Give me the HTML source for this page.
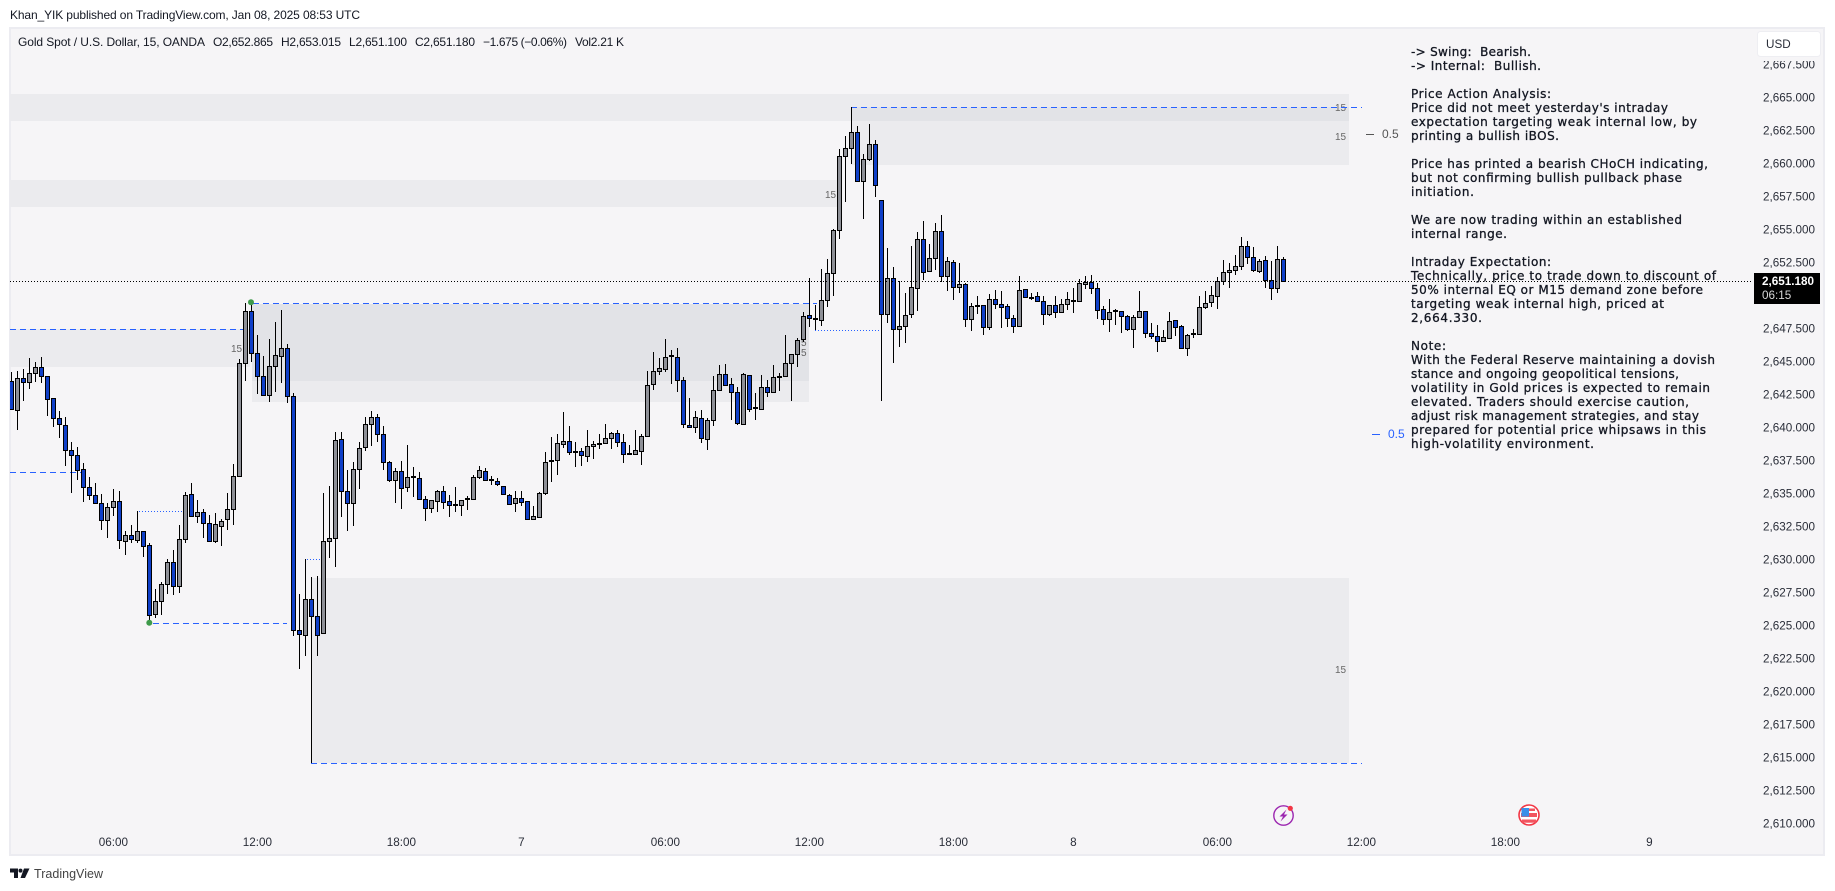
<!DOCTYPE html>
<html lang="en">
<head>
<meta charset="utf-8">
<title>Gold Spot / U.S. Dollar chart</title>
<style>
html,body{margin:0;padding:0;background:#fff;width:1835px;height:891px;overflow:hidden}
svg{display:block;position:absolute;left:0;top:0}
text{font-family:"Liberation Sans",sans-serif;fill:#131722}
.note{font-family:"DejaVu Sans",sans-serif;font-size:12px;fill:#131722;stroke:#131722;stroke-width:.3;white-space:pre}
.axis{font-size:11.7px;fill:#2a2e39}
.mini{font-size:10px;fill:#666}
</style>
</head>
<body>
<svg id="chart" width="1835" height="891" viewBox="0 0 1835 891" xmlns="http://www.w3.org/2000/svg">
  <defs><clipPath id="pane-clip"><rect x="10" y="28" width="1740" height="800"/></clipPath></defs>
  <rect x="10" y="28" width="1814" height="827" fill="#f6f5f7" stroke="#ececf1" stroke-width="2"/>
  <text x="10" y="19" font-size="12" fill="#333" textLength="350" lengthAdjust="spacing">Khan_YIK published on TradingView.com, Jan 08, 2025 08:53 UTC</text>
  <g font-size="12">
    <text x="18" y="46" textLength="187" lengthAdjust="spacing">Gold Spot / U.S. Dollar, 15, OANDA</text>
    <text x="213" y="46" textLength="60" lengthAdjust="spacing">O2,652.865</text>
    <text x="281" y="46" textLength="60" lengthAdjust="spacing">H2,653.015</text>
    <text x="349" y="46" textLength="58" lengthAdjust="spacing">L2,651.100</text>
    <text x="415" y="46" textLength="60" lengthAdjust="spacing">C2,651.180</text>
    <text x="483" y="46" textLength="84" lengthAdjust="spacing">−1.675 (−0.06%)</text>
    <text x="575" y="46" textLength="49" lengthAdjust="spacing">Vol2.21 K</text>
  </g>

  <g shape-rendering="crispEdges">
    <rect x="10" y="94" width="1339" height="27" fill="#ebebee"/>
    <rect x="10" y="180" width="830" height="27" fill="#ebebee"/>
    <rect x="851" y="107" width="498" height="14" fill="#e2e3e7"/>
    <rect x="851" y="121" width="498" height="44" fill="#ebebee"/>
    <rect x="10" y="329" width="240" height="38" fill="#ebebee"/>
    <rect x="252" y="304" width="557" height="77" fill="#e2e3e7"/>
    <rect x="252" y="381" width="557" height="21" fill="#ebebee"/>
    <rect x="311" y="578" width="1038" height="185" fill="#ebebee"/>
  </g>

  <g>
    <text class="mini" x="231" y="352">15</text>
    <text class="mini" x="825" y="198">15</text>
    <text class="mini" x="801" y="346">5</text>
    <text class="mini" x="801" y="356">5</text>
    <text class="mini" x="1335" y="111">15</text>
    <text class="mini" x="1335" y="140">15</text>
    <text class="mini" x="1335" y="673">15</text>
  </g>

  <g fill="none" stroke="#2962ff" stroke-width="1" shape-rendering="crispEdges">
    <line x1="851" x2="1362" y1="107.5" y2="107.5" stroke-dasharray="6 4"/>
    <line x1="253" x2="817" y1="303.5" y2="303.5" stroke-dasharray="6 4"/>
    <line x1="10" x2="244" y1="329.5" y2="329.5" stroke-dasharray="6 4"/>
    <line x1="10" x2="89" y1="472.5" y2="472.5" stroke-dasharray="6 4"/>
    <line x1="153" x2="287" y1="623.5" y2="623.5" stroke-dasharray="6 4"/>
    <line x1="311" x2="1362" y1="763.5" y2="763.5" stroke-dasharray="6 4"/>
    <line x1="139" x2="183" y1="511.5" y2="511.5" stroke-dasharray="1 2"/>
    <line x1="307" x2="321" y1="559.5" y2="559.5" stroke-dasharray="1 2"/>
    <line x1="815" x2="879" y1="330.5" y2="330.5" stroke-dasharray="1 2"/>
  </g>

  <g id="candles" clip-path="url(#pane-clip)"></g>
  <g id="last-line"></g>

  <circle cx="149.3" cy="622.7" r="3" fill="#3e9a4a"/>
  <circle cx="251" cy="302.3" r="3" fill="#3e9a4a"/>

  <g>
    <line x1="1366" x2="1374" y1="134.5" y2="134.5" stroke="#555"/>
    <text x="1382" y="138" font-size="12" style="fill:#555">0.5</text>
    <line x1="1372" x2="1380" y1="434.5" y2="434.5" stroke="#2962ff"/>
    <text x="1388" y="438" font-size="12" style="fill:#2962ff">0.5</text>
  </g>

  <g xml:space="preserve">
    <text class="note" x="1411" y="56" textLength="120" lengthAdjust="spacing">-&gt; Swing:  Bearish.</text>
    <text class="note" x="1411" y="70" textLength="130" lengthAdjust="spacing">-&gt; Internal:  Bullish.</text>
    <text class="note" x="1411" y="98" textLength="140" lengthAdjust="spacing">Price Action Analysis:</text>
    <text class="note" x="1411" y="112" textLength="257" lengthAdjust="spacing">Price did not meet yesterday's intraday</text>
    <text class="note" x="1411" y="126" textLength="286" lengthAdjust="spacing">expectation targeting weak internal low, by</text>
    <text class="note" x="1411" y="140" textLength="148" lengthAdjust="spacing">printing a bullish iBOS.</text>
    <text class="note" x="1411" y="168" textLength="297" lengthAdjust="spacing">Price has printed a bearish CHoCH indicating,</text>
    <text class="note" x="1411" y="182" textLength="271" lengthAdjust="spacing">but not confirming bullish pullback phase</text>
    <text class="note" x="1411" y="196" textLength="63" lengthAdjust="spacing">initiation.</text>
    <text class="note" x="1411" y="224" textLength="271" lengthAdjust="spacing">We are now trading within an established</text>
    <text class="note" x="1411" y="238" textLength="96" lengthAdjust="spacing">internal range.</text>
    <text class="note" x="1411" y="266" textLength="140" lengthAdjust="spacing">Intraday Expectation:</text>
    <text class="note" x="1411" y="280" textLength="305" lengthAdjust="spacing">Technically, price to trade down to discount of</text>
    <text class="note" x="1411" y="294" textLength="292" lengthAdjust="spacing">50% internal EQ or M15 demand zone before</text>
    <text class="note" x="1411" y="308" textLength="253" lengthAdjust="spacing">targeting weak internal high, priced at</text>
    <text class="note" x="1411" y="322" textLength="71" lengthAdjust="spacing">2,664.330.</text>
    <text class="note" x="1411" y="350" textLength="35" lengthAdjust="spacing">Note:</text>
    <text class="note" x="1411" y="364" textLength="304" lengthAdjust="spacing">With the Federal Reserve maintaining a dovish</text>
    <text class="note" x="1411" y="378" textLength="268" lengthAdjust="spacing">stance and ongoing geopolitical tensions,</text>
    <text class="note" x="1411" y="392" textLength="299" lengthAdjust="spacing">volatility in Gold prices is expected to remain</text>
    <text class="note" x="1411" y="406" textLength="278" lengthAdjust="spacing">elevated. Traders should exercise caution,</text>
    <text class="note" x="1411" y="420" textLength="288" lengthAdjust="spacing">adjust risk management strategies, and stay</text>
    <text class="note" x="1411" y="434" textLength="295" lengthAdjust="spacing">prepared for potential price whipsaws in this</text>
    <text class="note" x="1411" y="448" textLength="183" lengthAdjust="spacing">high-volatility environment.</text>
  </g>

  <g id="price-axis"></g>
  <g id="time-axis"></g>

  <rect x="1757" y="30" width="66" height="31" fill="#f6f5f7"/>
  <g>
    <rect x="1757.5" y="31.5" width="63" height="25" rx="3" fill="#fff" stroke="#eeeef2"/>
    <text x="1766" y="48" font-size="11.7" style="fill:#2a2e39">USD</text>
  </g>

  <g>
    <rect x="1754" y="273" width="66" height="31" fill="#000"/>
    <text x="1762" y="285" font-size="11.7" font-weight="bold" style="fill:#fff">2,651.180</text>
    <text x="1762" y="299" font-size="11.7" style="fill:#d8d8d8">06:15</text>
  </g>

  <g>
    <circle cx="1283.5" cy="815.5" r="9.7" fill="#f6f5f7" stroke="#9c27b0" stroke-width="1.4"/>
    <polygon points="1286.5,809.5 1279.5,816.5 1283,816.5 1280.5,821.5 1287.5,814.5 1284,814.5" fill="#9c27b0"/>
    <circle cx="1290.3" cy="808.3" r="2.6" fill="#f23645"/>
  </g>
  <g>
    <circle cx="1529" cy="815" r="10" fill="#fff" stroke="#f23645" stroke-width="1.6"/>
    <rect x="1521" y="813" width="16" height="4" fill="#f2545f"/>
    <rect x="1522" y="819.5" width="14" height="3.2" fill="#f2545f"/>
    <rect x="1528" y="808.5" width="7" height="2.5" fill="#f2545f"/>
    <rect x="1521.5" y="808" width="7.5" height="8.5" fill="#3a8fe8"/>
  </g>

  <g>
    <polygon points="10,868.5 18,868.5 18,878 14,878 14,872.5 10,872.5" fill="#131722"/>
    <polygon points="24,868.5 29.5,868.5 25,878 20.5,878" fill="#131722"/>
    <circle cx="20.5" cy="870.6" r="2" fill="#131722"/>
    <text x="34" y="878" font-size="12.5" style="fill:#444" textLength="69" lengthAdjust="spacing">TradingView</text>
  </g>
</svg>

<script>
const opens = [2643.58,2641.38,2643.81,2643.51,2644.19,2644.64,2643.96,2642.29,2640.78,2640.25,
2638.35,2637.98,2636.92,2635.55,2634.95,2634.34,2633.05,2634.04,2634.49,2631.46,
2631.92,2631.54,2632.22,2631.16,2625.93,2626.92,2628.20,2629.87,2628.05,2631.61,
2635.02,2633.36,2633.66,2632.82,2631.46,2632.60,2633.13,2633.89,2636.39,2644.94,
2648.88,2645.70,2643.96,2642.52,2644.72,2645.48,2646.08,2642.45,2624.72,2624.34,
2627.07,2625.78,2624.49,2631.46,2631.69,2639.19,2635.25,2634.34,2636.92,2638.58,
2640.32,2640.85,2639.57,2637.45,2636.08,2636.76,2635.55,2636.31,2636.23,2634.64,
2633.96,2634.49,2635.25,2634.49,2634.19,2634.19,2634.64,2634.64,2636.31,2636.76,
2636.08,2636.01,2635.63,2634.95,2634.34,2634.72,2634.49,2633.13,2633.28,2635.10,
2637.57,2637.60,2638.81,2639.04,2638.20,2638.28,2637.90,2638.66,2638.86,2638.88,
2639.26,2639.64,2638.96,2638.05,2638.05,2638.28,2639.42,2643.35,2644.34,2644.49,
2645.48,2645.40,2643.66,2640.25,2640.10,2640.78,2639.19,2640.63,2642.90,2644.11,
2643.35,2642.75,2640.32,2644.04,2641.54,2641.46,2643.13,2642.75,2643.93,2643.96,
2644.94,2645.63,2646.76,2648.58,2648.28,2648.20,2649.72,2651.76,2655.02,2660.63,
2661.23,2662.44,2658.73,2660.40,2661.53,2657.29,2648.66,2651.38,2647.52,2647.75,
2648.66,2650.63,2654.34,2651.91,2652.90,2654.94,2651.54,2652.60,2650.70,2650.93,
2648.28,2649.29,2649.34,2647.67,2649.79,2649.41,2649.26,2648.35,2647.75,2650.55,
2649.92,2650.02,2649.64,2648.66,2649.34,2648.81,2649.41,2649.69,2649.64,2650.93,
2651.08,2650.63,2649.04,2648.28,2648.88,2648.88,2648.50,2647.52,2648.43,2648.88,
2647.22,2646.99,2646.61,2646.84,2648.20,2647.75,2646.08,2647.14,2647.14,2649.19,
2649.57,2650.02,2651.16,2651.84,2651.99,2652.29,2653.81,2652.97,2651.91,2652.75,
2651.23,2650.63,2652.865];
const highs = [2644.29,2644.36,2644.52,2645.32,2645.02,2645.40,2643.96,2642.29,2641.33,2640.88,
2638.96,2638.58,2637.37,2636.31,2635.85,2635.02,2634.34,2635.40,2635.25,2632.22,
2632.67,2633.76,2632.22,2631.31,2627.83,2628.36,2630.10,2630.78,2632.67,2635.17,
2635.85,2634.59,2633.89,2633.48,2633.58,2633.13,2635.10,2637.29,2645.25,2649.49,
2649.64,2647.07,2645.50,2646.76,2648.05,2648.96,2646.38,2642.67,2627.47,2630.10,
2628.73,2628.84,2635.10,2635.65,2639.72,2639.72,2636.84,2637.45,2638.96,2640.88,
2641.31,2641.08,2640.17,2637.52,2636.99,2637.52,2638.73,2637.07,2636.69,2634.87,
2634.57,2635.32,2635.63,2634.95,2635.55,2634.57,2634.87,2636.46,2637.14,2636.99,
2636.39,2636.23,2635.63,2635.02,2635.25,2635.25,2634.49,2634.11,2635.17,2638.20,
2639.34,2639.57,2641.23,2640.17,2638.96,2638.51,2639.87,2639.04,2639.57,2640.32,
2639.72,2639.87,2639.57,2638.73,2639.87,2639.57,2644.34,2645.78,2645.32,2646.76,
2645.93,2646.08,2643.88,2642.29,2641.31,2641.38,2640.78,2643.96,2644.79,2644.87,
2643.81,2643.13,2644.19,2644.04,2642.67,2644.04,2643.66,2644.79,2644.19,2647.07,
2645.63,2646.84,2648.81,2651.38,2649.34,2652.07,2652.82,2655.10,2661.16,2662.14,
2664.34,2662.90,2660.78,2663.05,2661.84,2657.29,2653.66,2652.22,2651.16,2650.25,
2653.81,2654.87,2655.70,2653.96,2655.55,2656.16,2652.97,2652.75,2652.52,2651.01,
2649.49,2650.02,2649.34,2650.17,2650.47,2650.40,2649.41,2648.58,2651.54,2650.55,
2650.25,2650.32,2650.02,2649.34,2650.02,2649.79,2650.32,2650.63,2651.31,2651.54,
2651.61,2651.01,2649.26,2649.79,2649.04,2648.88,2648.58,2648.58,2650.40,2648.88,
2647.97,2647.82,2647.44,2648.81,2648.20,2647.82,2647.14,2647.52,2650.02,2650.40,
2650.78,2651.46,2652.75,2652.52,2653.13,2654.49,2654.19,2653.73,2652.82,2653.05,
2652.67,2653.81,2653.015];
const lows = [2641.46,2639.89,2642.12,2643.03,2643.53,2643.48,2640.98,2640.15,2639.29,2637.19,
2635.15,2636.11,2634.47,2634.59,2634.34,2632.32,2631.74,2633.36,2630.91,2630.45,
2631.31,2631.31,2630.30,2625.25,2625.63,2625.88,2627.45,2627.42,2627.57,2631.36,
2633.36,2632.82,2631.74,2631.46,2631.31,2631.13,2632.32,2632.70,2636.31,2643.61,
2645.07,2642.60,2642.52,2642.04,2642.77,2643.48,2641.97,2624.32,2621.82,2622.80,
2614.64,2622.80,2624.49,2630.22,2629.54,2633.33,2632.27,2632.65,2635.45,2638.33,
2638.71,2639.01,2636.89,2635.98,2634.39,2633.94,2635.22,2634.84,2634.64,2633.03,
2633.63,2633.71,2633.94,2633.33,2633.71,2633.41,2633.86,2634.64,2636.16,2636.08,
2635.70,2635.68,2635.02,2634.26,2633.71,2634.16,2633.13,2633.05,2633.20,2634.95,
2635.98,2636.51,2638.51,2637.98,2637.12,2637.19,2637.50,2637.72,2638.48,2638.88,
2638.48,2638.63,2637.42,2638.05,2638.05,2637.27,2639.42,2642.90,2644.09,2644.26,
2643.40,2642.80,2640.02,2640.10,2639.69,2638.88,2638.38,2640.22,2642.82,2643.28,
2640.65,2640.30,2640.32,2641.23,2640.65,2641.46,2642.42,2642.75,2642.85,2643.96,
2642.09,2644.69,2646.54,2647.70,2647.44,2647.77,2649.19,2650.05,2654.39,2657.19,
2660.02,2658.73,2655.90,2660.25,2657.57,2642.12,2648.03,2645.00,2646.16,2646.51,
2648.40,2648.93,2651.28,2651.91,2651.99,2651.13,2650.45,2649.77,2650.25,2647.72,
2647.42,2648.71,2647.12,2647.50,2649.09,2647.65,2647.72,2647.27,2647.75,2649.94,
2649.72,2649.57,2647.87,2648.53,2648.40,2648.81,2648.96,2648.78,2649.64,2650.55,
2650.17,2648.28,2647.82,2647.29,2647.82,2647.22,2647.37,2646.08,2648.43,2646.89,
2646.81,2645.78,2646.61,2646.84,2647.04,2646.08,2645.48,2646.84,2647.14,2649.04,
2649.19,2649.09,2650.85,2650.68,2651.66,2651.99,2652.44,2651.84,2651.76,2650.63,
2649.72,2650.25,2651.10];
const closes = [2641.46,2643.81,2643.51,2644.19,2644.64,2643.96,2642.22,2640.78,2640.32,2638.35,
2637.98,2636.84,2635.55,2634.95,2634.34,2633.05,2634.04,2634.49,2631.54,2631.92,
2631.61,2632.22,2631.08,2625.86,2626.92,2628.20,2629.87,2628.05,2631.61,2634.95,
2633.36,2633.66,2632.82,2631.46,2632.75,2632.98,2633.89,2636.39,2644.94,2648.88,
2645.70,2643.96,2642.52,2644.72,2645.55,2646.08,2642.45,2624.72,2624.42,2627.07,
2625.78,2624.34,2631.46,2631.69,2639.11,2635.25,2634.34,2636.92,2638.51,2640.32,
2640.85,2639.57,2637.45,2636.08,2636.76,2635.48,2636.31,2636.23,2634.64,2633.96,
2634.57,2635.25,2634.42,2634.19,2634.19,2634.57,2634.64,2636.31,2636.84,2636.08,
2636.08,2635.78,2635.02,2634.26,2634.72,2634.42,2633.13,2633.36,2635.10,2637.45,
2637.52,2638.88,2639.04,2638.20,2638.20,2637.98,2638.66,2638.81,2638.86,2639.26,
2639.64,2638.96,2638.05,2638.05,2638.35,2639.42,2643.28,2644.34,2644.57,2645.40,
2645.48,2643.66,2640.32,2640.10,2640.85,2639.26,2640.63,2642.90,2644.11,2643.28,
2642.75,2640.40,2644.11,2641.46,2641.54,2643.13,2642.75,2643.88,2643.93,2644.94,
2645.63,2646.69,2648.51,2648.35,2648.23,2649.72,2651.76,2655.02,2660.63,2661.23,
2662.44,2658.73,2660.40,2661.53,2658.43,2648.66,2651.38,2647.52,2647.75,2648.58,
2650.70,2654.34,2651.84,2652.90,2654.94,2651.54,2652.67,2650.70,2650.93,2648.28,
2649.26,2649.29,2647.67,2649.79,2649.41,2649.19,2648.35,2647.75,2650.47,2649.94,
2649.92,2649.64,2648.66,2649.34,2648.81,2649.41,2649.79,2649.69,2651.01,2651.08,
2650.63,2648.96,2648.28,2648.81,2648.88,2648.50,2647.52,2648.43,2648.88,2647.22,
2646.99,2646.61,2646.91,2648.13,2647.67,2646.08,2647.07,2647.14,2649.19,2649.49,
2650.10,2651.16,2651.84,2651.99,2652.29,2653.81,2652.97,2651.99,2652.67,2651.23,
2650.63,2652.82,2651.18];
const priceTicks = [2610,2612.5,2615,2617.5,2620,2622.5,2625,2627.5,2630,2632.5,2635,2637.5,2640,2642.5,2645,2647.5,2650,2652.5,2655,2657.5,2660,2662.5,2665,2667.5];
const timeTickBars = [17,41,65,85,109,133,157,177,201,225,249,273];
const timeTickLabels = ['06:00','12:00','18:00','7','06:00','12:00','18:00','8','06:00','12:00','18:00','9'];
const lastPrice = 2651.18;

const NS = 'http://www.w3.org/2000/svg';
function xScale(bar){ return 11.33 + 6 * bar; }
function yScale(price){ return 281 + (2651.18 - price) * 13.2; }
function make(tag, attrs, parent){
  const el = document.createElementNS(NS, tag);
  for (const k in attrs) el.setAttribute(k, attrs[k]);
  parent.appendChild(el);
  return el;
}

const candleGroup = document.getElementById('candles');
opens.forEach(function(open, i){
  const close = closes[i];
  const cx = Math.floor(xScale(i));
  const g = make('g', {'shape-rendering':'crispEdges'}, candleGroup);
  
  
  const wick = make('rect', {x:cx, y:Math.round(yScale(highs[i])), width:1, height:Math.max(1, Math.round(yScale(lows[i])) - Math.round(yScale(highs[i]))), fill:'#000'}, g);
  
  
  const top = Math.round(yScale(Math.max(open, close)));
  const bottom = Math.round(yScale(Math.min(open, close)));
  const h = bottom - top;
  if (h < 2) {
    const doji = make('rect', {x:cx - 2, y:top - 1, width:5, height:2, fill:'#000'}, g);
    
    
  } else {
    const body = make('rect', {x:cx - 1.5, y:top + 0.5, width:4, height:h, fill:close < open ? '#0f3fc8' : '#8e9097', stroke:'#000', 'stroke-width':1}, g);
    
    
  }
});

const lastGroup = document.getElementById('last-line');
const lastY = Math.round(yScale(lastPrice)) + 0.5;
const lastLine = make('line', {x1:10, x2:1751, y1:lastY, y2:lastY, stroke:'#000', 'stroke-width':1, 'stroke-dasharray':'1 2', 'shape-rendering':'crispEdges'}, lastGroup);



const priceAxis = document.getElementById('price-axis');
priceTicks.forEach(function(p){
  const t = make('text', {x:1815, y:yScale(p) + 3, 'text-anchor':'end', class:'axis'}, priceAxis);
  
  
  t.textContent = p.toLocaleString('en-US', {minimumFractionDigits:3, maximumFractionDigits:3});
});

const timeAxis = document.getElementById('time-axis');
timeTickBars.forEach(function(bar, i){
  const t = make('text', {x:xScale(bar), y:846, 'text-anchor':'middle', class:'axis'}, timeAxis);
  
  
  t.textContent = timeTickLabels[i];
});
</script>
</body>
</html>
